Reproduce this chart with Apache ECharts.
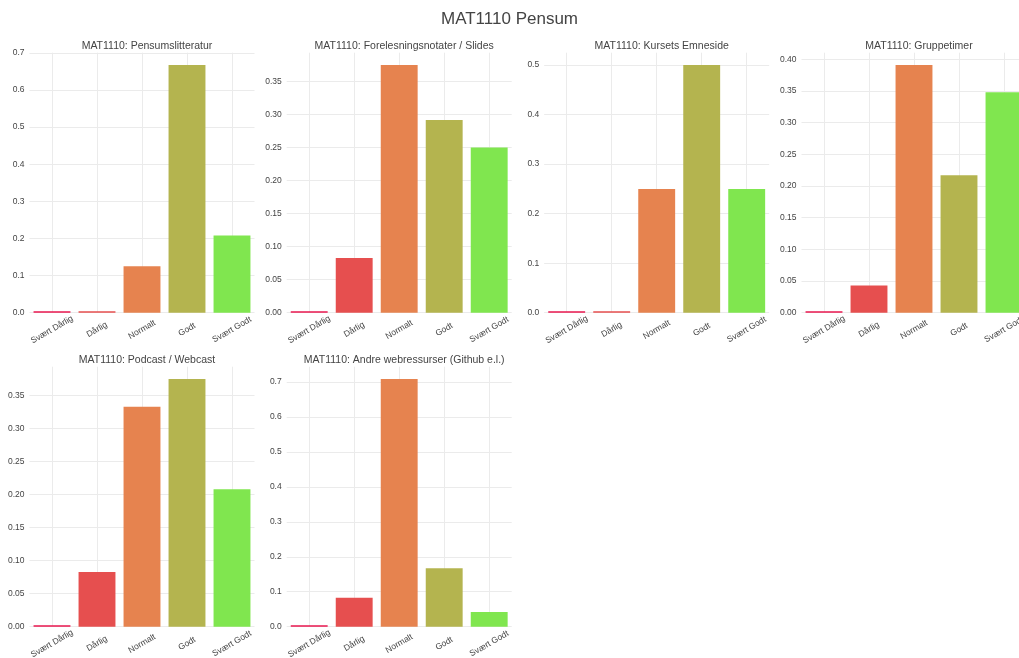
<!DOCTYPE html>
<html>
<head>
<meta charset="utf-8">
<script src="https://cdn.jsdelivr.net/npm/echarts@6/dist/echarts.min.js"></script>
<style>
html,body{margin:0;padding:0;background:#fff;}
#c{width:1019px;height:658px;}
</style>
</head>
<body>
<div id="c"></div>
<script>
const categories = ['Svært Dårlig', 'Dårlig', 'Normalt', 'Godt', 'Svært Godt'];
const pensumslitteratur = [0, 0, 0.125, 0.667, 0.208];
const forelesningsnotater = [0, 0.083, 0.375, 0.292, 0.25];
const emneside = [0, 0, 0.25, 0.5, 0.25];
const gruppetimer = [0, 0.043, 0.391, 0.217, 0.348];
const podcast = [0, 0.083, 0.333, 0.375, 0.208];
const andre = [0, 0.083, 0.708, 0.167, 0.042];
const titles = ['MAT1110: Pensumslitteratur', 'MAT1110: Forelesningsnotater / Slides', 'MAT1110: Kursets Emneside',
  'MAT1110: Gruppetimer', 'MAT1110: Podcast / Webcast', 'MAT1110: Andre webressurser (Github e.l.)'];
const intervals = [0.1, 0.05, 0.1, 0.05, 0.05, 0.1];
const decimals = [1, 2, 1, 2, 2, 1];
const colors = ['#E8174F', '#E64F4F', '#E6834F', '#B4B44F', '#80E64F'];
const seriesData = [pensumslitteratur, forelesningsnotater, emneside, gruppetimer, podcast, andre];

const FONT = '"Liberation Sans", Arial, sans-serif';
const lefts = [29.5, 286.7, 544.2, 801.5];
const tops = [52.7, 366.7];
const W = 225, H = 260;

const grids = [], xAxes = [], yAxes = [], series = [], titleArr = [];
titleArr.push({text: 'MAT1110 Pensum', left: 'center', top: 6,
  textStyle: {fontFamily: FONT, fontSize: 17, fontWeight: 'normal', color: '#444'}});
seriesData.forEach((d, i) => {
  const col = i % 4, row = Math.floor(i / 4);
  const L = lefts[col], T = tops[row];
  grids.push({left: L, top: T, width: W, height: H, containLabel: false, outerBoundsMode: 'none'});
  titleArr.push({text: titles[i], left: L + W / 2, top: T - 17, textAlign: 'center',
    textStyle: {fontFamily: FONT, fontSize: 10.5, fontWeight: 'normal', color: '#444'}});
  const iv = intervals[i], dec = decimals[i];
  const mx = Math.max(...d) * 1.05;
  xAxes.push({type: 'category', gridIndex: i, data: categories,
    axisLine: {show: false}, axisTick: {show: false},
    axisLabel: {rotate: 30, fontSize: 8.5, color: '#444', fontFamily: FONT, margin: 17, interval: 0,
      align: 'center', verticalAlign: 'middle'},
    splitLine: {show: true, alignWithLabel: true, lineStyle: {color: '#ebebeb', width: 1}}
  });
  yAxes.push({type: 'value', gridIndex: i, min: 0, max: mx, interval: iv,
    axisLine: {show: false}, axisTick: {show: false},
    axisLabel: {fontSize: 8.5, color: '#444', fontFamily: FONT, margin: 5,
      formatter: v => { const k = v / iv; if (Math.abs(k - Math.round(k)) > 1e-6) return ''; return v.toFixed(dec); }},
    splitLine: {show: true, showMaxLine: false, lineStyle: {color: '#ebebeb', width: 1}}
  });
  series.push({type: 'bar', xAxisIndex: i, yAxisIndex: i, barCategoryGap: '18%', barMinHeight: 1.5,
    silent: true,
    data: d.map((v, j) => ({value: v, itemStyle: {color: colors[j]}}))
  });
});

const chart = echarts.init(document.getElementById('c'), null, {renderer: 'canvas'});
chart.setOption({
  backgroundColor: '#fff',
  animation: false,
  title: titleArr,
  grid: grids,
  xAxis: xAxes,
  yAxis: yAxes,
  series: series
});
</script>
</body>
</html>
